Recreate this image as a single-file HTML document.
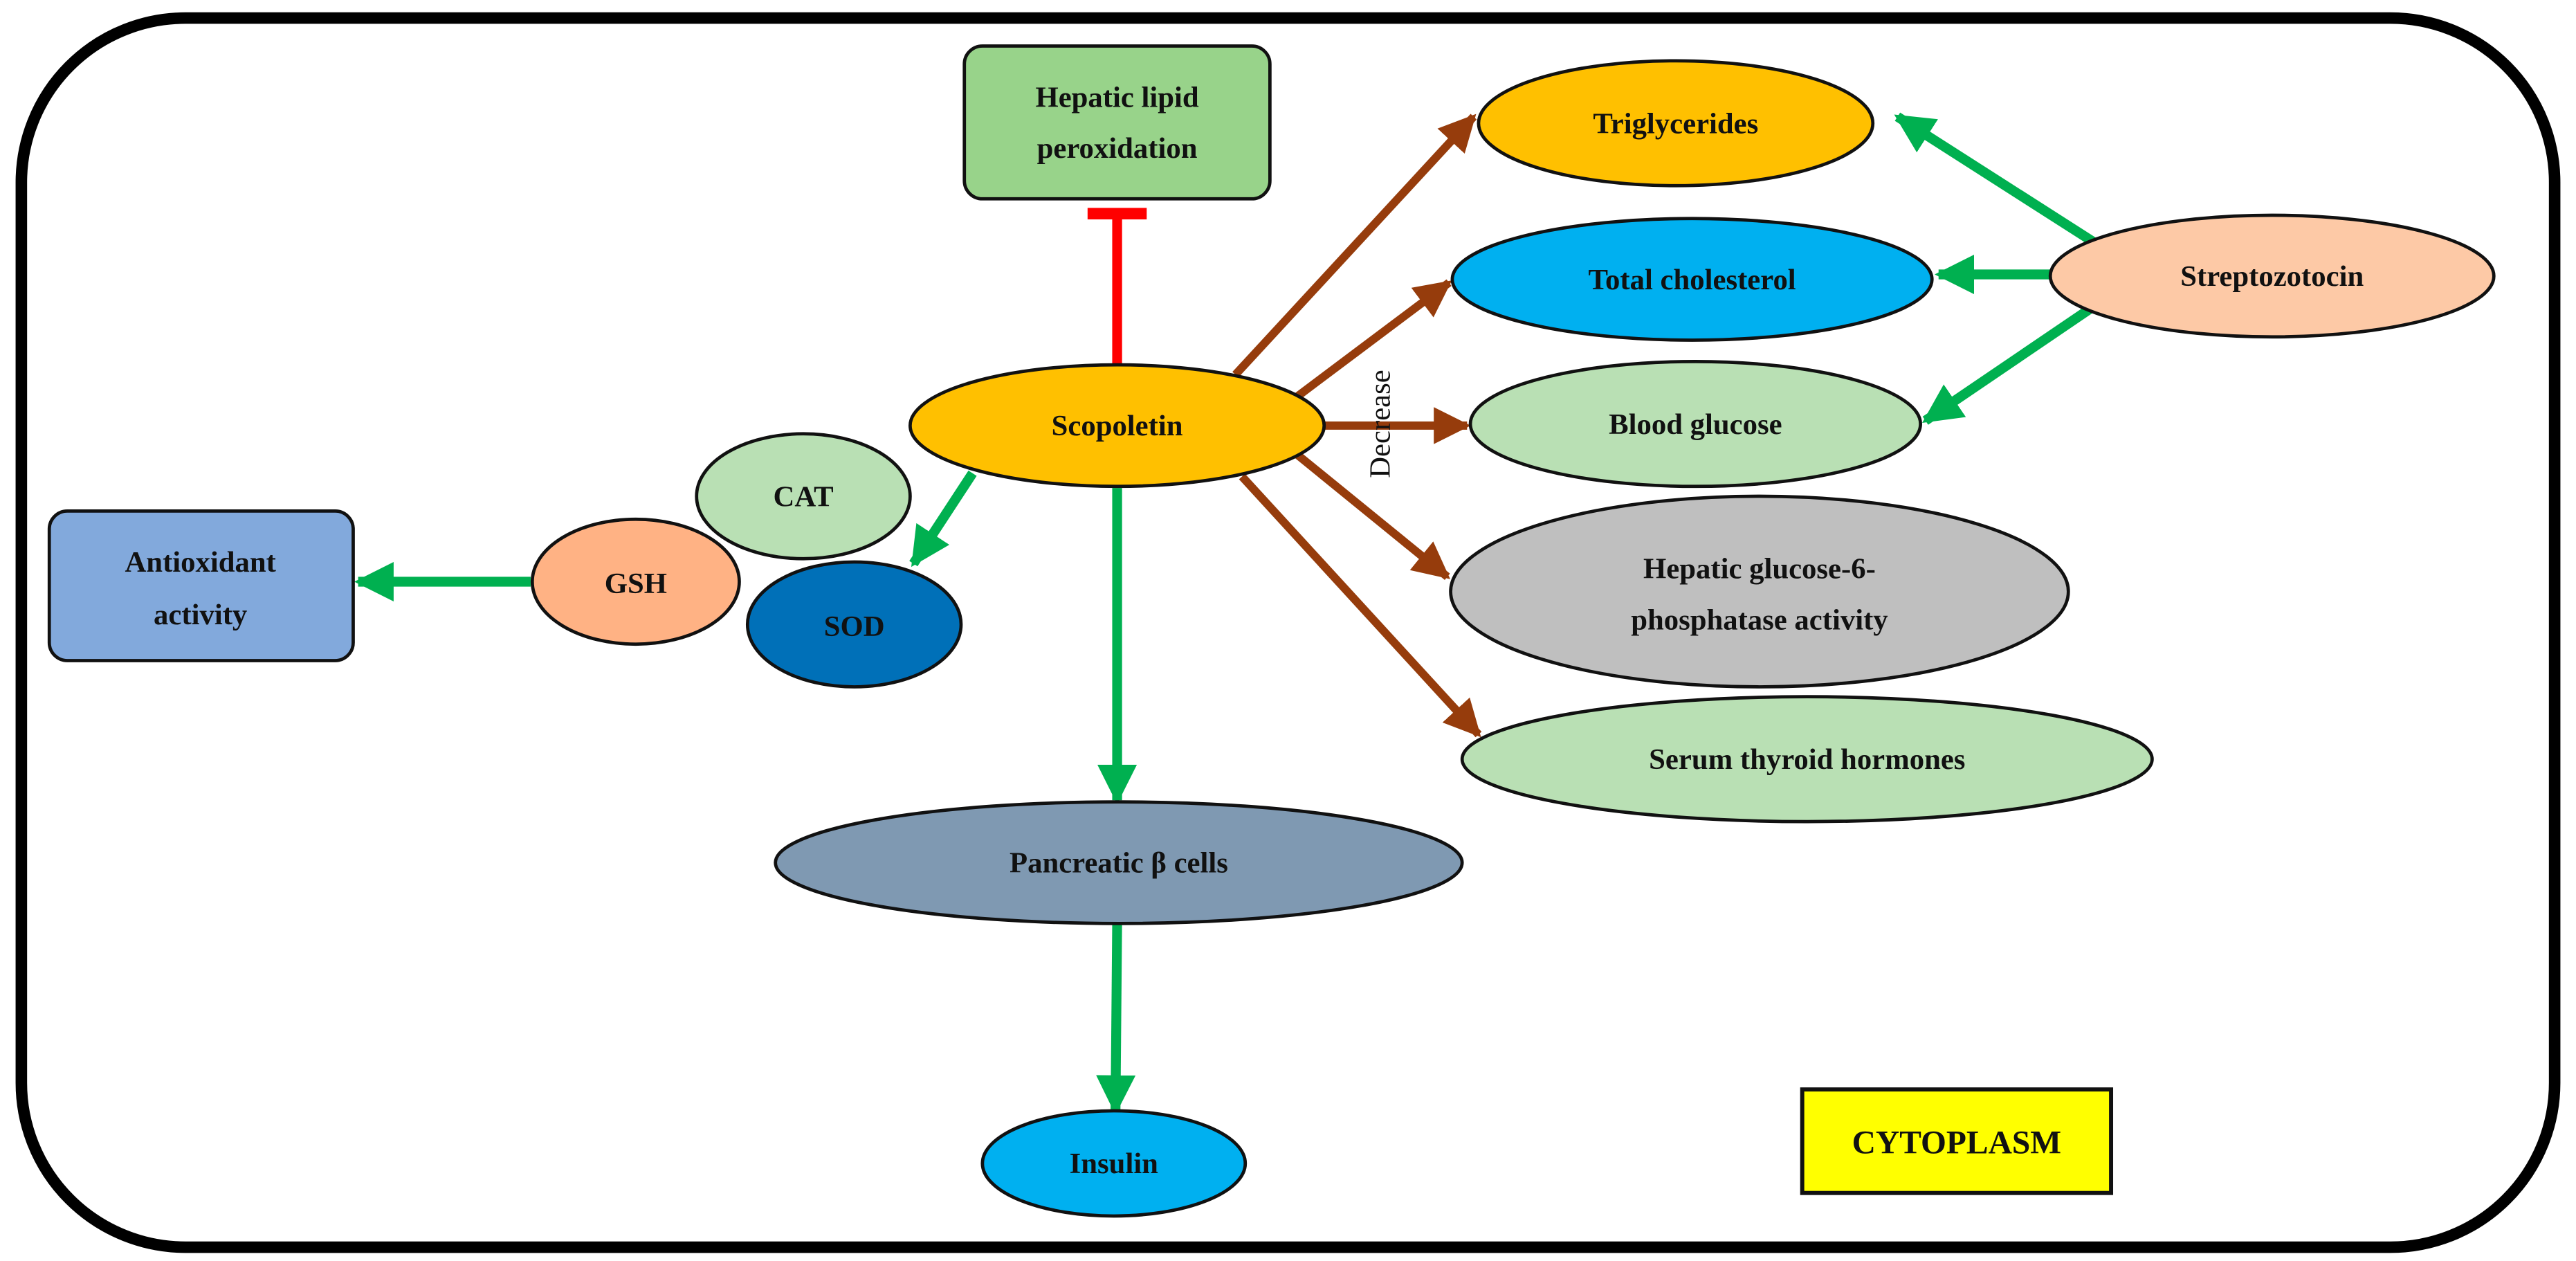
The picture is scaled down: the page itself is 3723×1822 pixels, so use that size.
<!DOCTYPE html>
<html><head><meta charset="utf-8"><style>
html,body{margin:0;padding:0;background:#fff;}
svg{display:block;}
text{font-family:"Liberation Serif",serif;font-weight:bold;fill:#111;}
</style></head><body>
<svg width="3723" height="1822" viewBox="0 0 1568 767.4" preserveAspectRatio="none" xmlns="http://www.w3.org/2000/svg">
<defs>
<marker id="g" viewBox="0 0 10 10" refX="9" refY="5" markerWidth="4" markerHeight="4" orient="auto" markerUnits="strokeWidth"><path d="M0,0 L10,5 L0,10 z" fill="#00b050"/></marker>
<marker id="b" viewBox="0 0 10 10" refX="9" refY="5" markerWidth="4.5" markerHeight="4.5" orient="auto" markerUnits="strokeWidth"><path d="M0,0 L10,5 L0,10 z" fill="#963c0c"/></marker>
</defs>
<rect x="13" y="11" width="1542" height="748" rx="100" fill="#fff" stroke="#000" stroke-width="7"/>

<line x1="680" y1="224" x2="680" y2="130" stroke="#ff0000" stroke-width="6"/>
<line x1="662" y1="130" x2="698" y2="130" stroke="#ff0000" stroke-width="7"/>
<line x1="680" y1="297" x2="680" y2="487" stroke="#00b050" stroke-width="6" marker-end="url(#g)"/>
<line x1="680" y1="562" x2="679" y2="676" stroke="#00b050" stroke-width="6" marker-end="url(#g)"/>
<line x1="592" y1="288" x2="556" y2="343" stroke="#00b050" stroke-width="6" marker-end="url(#g)"/>
<line x1="323" y1="354" x2="218" y2="354" stroke="#00b050" stroke-width="6" marker-end="url(#g)"/>
<line x1="1277" y1="149" x2="1155" y2="71" stroke="#00b050" stroke-width="6" marker-end="url(#g)"/>
<line x1="1268" y1="167" x2="1180" y2="167" stroke="#00b050" stroke-width="6" marker-end="url(#g)"/>
<line x1="1278" y1="184" x2="1172" y2="256" stroke="#00b050" stroke-width="6" marker-end="url(#g)"/>

<line x1="752" y1="228" x2="897" y2="71" stroke="#963c0c" stroke-width="5" marker-end="url(#b)"/>
<line x1="790" y1="241" x2="882" y2="172" stroke="#963c0c" stroke-width="5" marker-end="url(#b)"/>
<line x1="805" y1="259" x2="893" y2="259" stroke="#963c0c" stroke-width="5" marker-end="url(#b)"/>
<line x1="790" y1="277" x2="881" y2="351" stroke="#963c0c" stroke-width="5" marker-end="url(#b)"/>
<line x1="756" y1="290" x2="900" y2="447" stroke="#963c0c" stroke-width="5" marker-end="url(#b)"/>

<rect x="587" y="28" width="186" height="93" rx="11" fill="#98d38a" stroke="#111" stroke-width="2"/>
<text x="680" y="65" font-size="18" text-anchor="middle">Hepatic lipid</text>
<text x="680" y="96" font-size="18" text-anchor="middle">peroxidation</text>

<ellipse cx="680" cy="259" rx="126" ry="37" fill="#ffc000" stroke="#111" stroke-width="2"/>
<text x="680" y="265" font-size="18" text-anchor="middle">Scopoletin</text>

<ellipse cx="489" cy="302" rx="65" ry="38" fill="#b9e0b4" stroke="#111" stroke-width="2"/>
<text x="489" y="308" font-size="18" text-anchor="middle">CAT</text>
<ellipse cx="387" cy="354" rx="63" ry="38" fill="#ffb284" stroke="#111" stroke-width="2"/>
<text x="387" y="361" font-size="18" text-anchor="middle">GSH</text>
<ellipse cx="520" cy="380" rx="65" ry="38" fill="#0070b8" stroke="#111" stroke-width="2"/>
<text x="520" y="387" font-size="18" text-anchor="middle">SOD</text>

<rect x="30" y="311" width="185" height="91" rx="11" fill="#82a9dc" stroke="#111" stroke-width="2"/>
<text x="122" y="348" font-size="18" text-anchor="middle">Antioxidant</text>
<text x="122" y="380" font-size="18" text-anchor="middle">activity</text>

<ellipse cx="681" cy="525" rx="209" ry="37" fill="#7f99b2" stroke="#111" stroke-width="2"/>
<text x="681" y="531" font-size="18" text-anchor="middle">Pancreatic β cells</text>

<ellipse cx="678" cy="708" rx="80" ry="32" fill="#00b0f0" stroke="#111" stroke-width="2"/>
<text x="678" y="714" font-size="18" text-anchor="middle">Insulin</text>

<ellipse cx="1020" cy="75" rx="120" ry="38" fill="#ffc000" stroke="#111" stroke-width="2"/>
<text x="1020" y="81" font-size="18" text-anchor="middle">Triglycerides</text>
<ellipse cx="1030" cy="170" rx="146" ry="37" fill="#00b0f0" stroke="#111" stroke-width="2"/>
<text x="1030" y="176" font-size="18" text-anchor="middle">Total cholesterol</text>
<ellipse cx="1032" cy="258" rx="137" ry="38" fill="#b9e0b4" stroke="#111" stroke-width="2"/>
<text x="1032" y="264" font-size="18" text-anchor="middle">Blood glucose</text>
<ellipse cx="1071" cy="360" rx="188" ry="58" fill="#bfbfbf" stroke="#111" stroke-width="2"/>
<text x="1071" y="352" font-size="18" text-anchor="middle">Hepatic glucose-6-</text>
<text x="1071" y="383" font-size="18" text-anchor="middle">phosphatase activity</text>
<ellipse cx="1100" cy="462" rx="210" ry="38" fill="#b9e0b4" stroke="#111" stroke-width="2"/>
<text x="1100" y="468" font-size="18" text-anchor="middle">Serum thyroid hormones</text>
<ellipse cx="1383" cy="168" rx="135" ry="37" fill="#fdc9a6" stroke="#111" stroke-width="2"/>
<text x="1383" y="174" font-size="18" text-anchor="middle">Streptozotocin</text>

<text transform="translate(846,258) rotate(-90)" font-size="18" text-anchor="middle" style="font-weight:normal">Decrease</text>

<rect x="1097" y="663" width="188" height="63" fill="#ffff00" stroke="#111" stroke-width="2.5"/>
<text x="1191" y="702" font-size="20" text-anchor="middle">CYTOPLASM</text>
</svg>
</body></html>
